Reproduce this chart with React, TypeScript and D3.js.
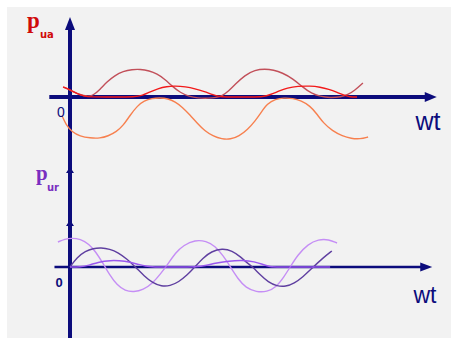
import React from "react";
import * as d3 from "d3";

// [wt in degrees, value]
const puaPeak: [number, number][] = [
  [-20, 0.37], [5, 0.22], [30, 0.08], [49, 0.02], [67, 0.05], [87, 0.28], [107, 0.56],
  [130, 0.8], [154, 0.95], [180, 1.02], [203, 1.03], [230, 0.97], [252, 0.86], [275, 0.66],
  [296, 0.4], [320, 0.16], [345, 0.02], [370, -0.04], [400, -0.05], [425, -0.02], [441, 0.04],
  [460, 0.22], [478, 0.46], [507, 0.81], [536, 1.0], [565, 1.04], [590, 1.0], [615, 0.9],
  [646, 0.68], [675, 0.36], [700, 0.13], [725, 0.02], [754, -0.03], [785, 0.0], [805, 0.08],
  [825, 0.24], [849, 0.52],
];
const puaRed: [number, number][] = [
  [-20, 0.37], [0, 0.27], [20, 0.13], [40, 0.03], [60, 0.0], [125, 0.0], [190, 0.0],
  [210, 0.06], [230, 0.18], [255, 0.31], [280, 0.39], [304, 0.41], [335, 0.38], [362, 0.31],
  [390, 0.2], [415, 0.08], [435, 0.01], [460, 0.0], [530, 0.0], [560, 0.01], [580, 0.08],
  [605, 0.22], [630, 0.34], [660, 0.4], [696, 0.41], [725, 0.37], [750, 0.29], [775, 0.17],
  [795, 0.06], [812, 0.0], [832, 0.0],
];
const puaOrange: [number, number][] = [
  [-23, -0.7], [-12, -1.02], [6, -1.3], [29, -1.45], [58, -1.52], [87, -1.53], [110, -1.45],
  [135, -1.28], [154, -1.06], [174, -0.68], [195, -0.33], [215, -0.14], [238, -0.05],
  [261, -0.03], [284, -0.06], [305, -0.18], [325, -0.37], [348, -0.67], [368, -0.96],
  [391, -1.26], [414, -1.44], [440, -1.56], [465, -1.57], [490, -1.45], [515, -1.2],
  [536, -0.9], [555, -0.55], [572, -0.25], [595, -0.08], [620, -0.03], [646, -0.05],
  [670, -0.14], [696, -0.33], [715, -0.62], [735, -0.97], [760, -1.25], [790, -1.45],
  [815, -1.54], [841, -1.56], [864, -1.48],
];
const purDark: [number, number][] = [
  [0, 0], [20, 0.48], [45, 0.8], [67, 0.93], [90, 0.97], [115, 0.9], [140, 0.72],
  [165, 0.4], [190, 0.0], [215, -0.45], [240, -0.8], [265, -0.97], [290, -0.95],
  [315, -0.75], [340, -0.4], [362, 0.0], [385, 0.45], [410, 0.78], [441, 0.93],
  [470, 0.82], [495, 0.5], [512, 0.22], [530, 0.0], [550, -0.38], [575, -0.76],
  [600, -0.96], [625, -0.98], [650, -0.82], [675, -0.5], [704, -0.02], [733, 0.45],
  [759, 0.8],
];
const purLight: [number, number][] = [
  [-35, 1.25], [-15, 1.4], [5, 1.45], [30, 1.4], [55, 1.15], [75, 0.75], [95, 0.2],
  [115, -0.4], [136, -0.9], [160, -1.2], [185, -1.25], [212, -1.15], [240, -0.8],
  [262, -0.35], [284, 0.15], [305, 0.7], [330, 1.1], [362, 1.35], [395, 1.3], [420, 1.05],
  [445, 0.55], [465, 0.0], [487, -0.6], [510, -1.05], [540, -1.25], [571, -1.25],
  [598, -1.0], [620, -0.5], [640, 0.05], [660, 0.6], [690, 1.15], [720, 1.38],
  [750, 1.38], [774, 1.2],
];
const purMid: [number, number][] = [
  [0, 0], [30, 0], [55, 0.08], [80, 0.24], [116, 0.34], [160, 0.3], [195, 0.15],
  [220, 0.03], [240, 0], [300, 0], [370, 0], [395, 0.08], [425, 0.2], [460, 0.3],
  [500, 0.34], [535, 0.27], [560, 0.12], [580, 0.01], [600, 0], [680, 0], [754, 0],
];

// axis extents
const wtAxisTop = [-60, 1063];
const wtAxisBottom = [-45, 1050];
const puaAxisTop = 2.96;
const purAxisBottom = -3.6;
const purAxisMarks = [4.85, 2.2];

const NAVY = "#0c0c7c";

export default function App() {
  const x = d3.scaleLinear().domain([0, 1000]).range([70, 415]);
  const yTop = d3.scaleLinear().domain([0, 1]).range([97, 70]);
  const yBot = d3.scaleLinear().domain([0, 1]).range([267, 247]);

  const lineTop = d3
    .line<[number, number]>()
    .x((d) => x(d[0]))
    .y((d) => yTop(d[1]))
    .curve(d3.curveBasis);
  const lineBot = d3
    .line<[number, number]>()
    .x((d) => x(d[0]))
    .y((d) => yBot(d[1]))
    .curve(d3.curveBasis);

  const x0 = x(0);
  const topY0 = yTop(0);
  const botY0 = yBot(0);

  const arrowRight = (tx: number, ty: number, len: number, hw: number) =>
    `M${tx},${ty} L${tx - len},${ty - hw} L${tx - len},${ty + hw} Z`;
  const arrowUp = (tx: number, ty: number, len: number, hw: number) =>
    `M${tx},${ty} L${tx - hw},${ty + len} L${tx + hw},${ty + len} Z`;

  return (
    <svg
      width={451}
      height={338}
      style={{ position: "absolute", left: 0, top: 0 }}
    >
      <rect x={0} y={0} width={451} height={338} fill="#ffffff" />
      <rect x={7} y={7} width={444} height={331} fill="#f2f2f2" />

      {/* top panel axes */}
      <line
        x1={x(wtAxisTop[0])}
        x2={x(wtAxisTop[1]) - 8}
        y1={topY0}
        y2={topY0}
        stroke={NAVY}
        strokeWidth={4}
      />
      <path d={arrowRight(x(wtAxisTop[1]), topY0, 12, 5)} fill={NAVY} />

      {/* bottom panel horizontal axis */}
      <line
        x1={x(wtAxisBottom[0])}
        x2={x(wtAxisBottom[1]) - 8}
        y1={botY0}
        y2={botY0}
        stroke={NAVY}
        strokeWidth={2.5}
      />
      <path d={arrowRight(x(wtAxisBottom[1]), botY0, 12, 4.5)} fill={NAVY} />

      {/* vertical axis */}
      <line
        x1={x0}
        x2={x0}
        y1={yTop(puaAxisTop) + 8}
        y2={yBot(purAxisBottom)}
        stroke={NAVY}
        strokeWidth={4}
      />
      <path d={arrowUp(x0, yTop(puaAxisTop), 13, 5)} fill={NAVY} />
      {purAxisMarks.map((m, i) => (
        <path key={i} d={arrowUp(x0, yBot(m) - 3, 6, 4)} fill={NAVY} />
      ))}

      {/* top curves */}
      <path d={lineTop(puaOrange) || ""} fill="none" stroke="#f7804f" strokeWidth={1.4} />
      <path d={lineTop(puaPeak) || ""} fill="none" stroke="#c2505a" strokeWidth={1.4} />
      <path d={lineTop(puaRed) || ""} fill="none" stroke="#f21a1a" strokeWidth={1.4} />

      {/* bottom curves */}
      <path d={lineBot(purLight) || ""} fill="none" stroke="#c58ef5" strokeWidth={1.4} />
      <path d={lineBot(purDark) || ""} fill="none" stroke="#5f3fa0" strokeWidth={1.4} />
      <path d={lineBot(purMid) || ""} fill="none" stroke="#9a58ee" strokeWidth={1.5} />

      {/* labels */}
      <text
        x={27}
        y={28}
        fill="#d00a0a"
        fontFamily="'Liberation Serif', serif"
        fontWeight="bold"
        fontSize={23}
      >
        p
      </text>
      <text
        x={40}
        y={38}
        fill="#d00a0a"
        fontFamily="'DejaVu Sans', sans-serif"
        fontWeight="bold"
        fontSize={10}
      >
        ua
      </text>
      <text
        x={36}
        y={180}
        fill="#7a2fc0"
        fontFamily="'Liberation Serif', serif"
        fontWeight="bold"
        fontSize={21}
      >
        p
      </text>
      <text
        x={47}
        y={191}
        fill="#7a2fc0"
        fontFamily="'DejaVu Sans', sans-serif"
        fontWeight="bold"
        fontSize={10}
      >
        ur
      </text>

      <text
        x={61}
        y={117}
        textAnchor="middle"
        fill={NAVY}
        fontFamily="'Liberation Sans', sans-serif"
        fontSize={14}
      >
        0
      </text>
      <text
        x={59}
        y={287}
        textAnchor="middle"
        fill={NAVY}
        fontFamily="'Liberation Sans', sans-serif"
        fontWeight="bold"
        fontSize={13}
      >
        0
      </text>
      <text
        x={428}
        y={130}
        textAnchor="middle"
        fill={NAVY}
        fontFamily="'Liberation Sans', sans-serif"
        fontSize={25}
      >
        wt
      </text>
      <text
        x={425}
        y={303}
        textAnchor="middle"
        fill={NAVY}
        fontFamily="'Liberation Sans', sans-serif"
        fontSize={23}
      >
        wt
      </text>
    </svg>
  );
}
